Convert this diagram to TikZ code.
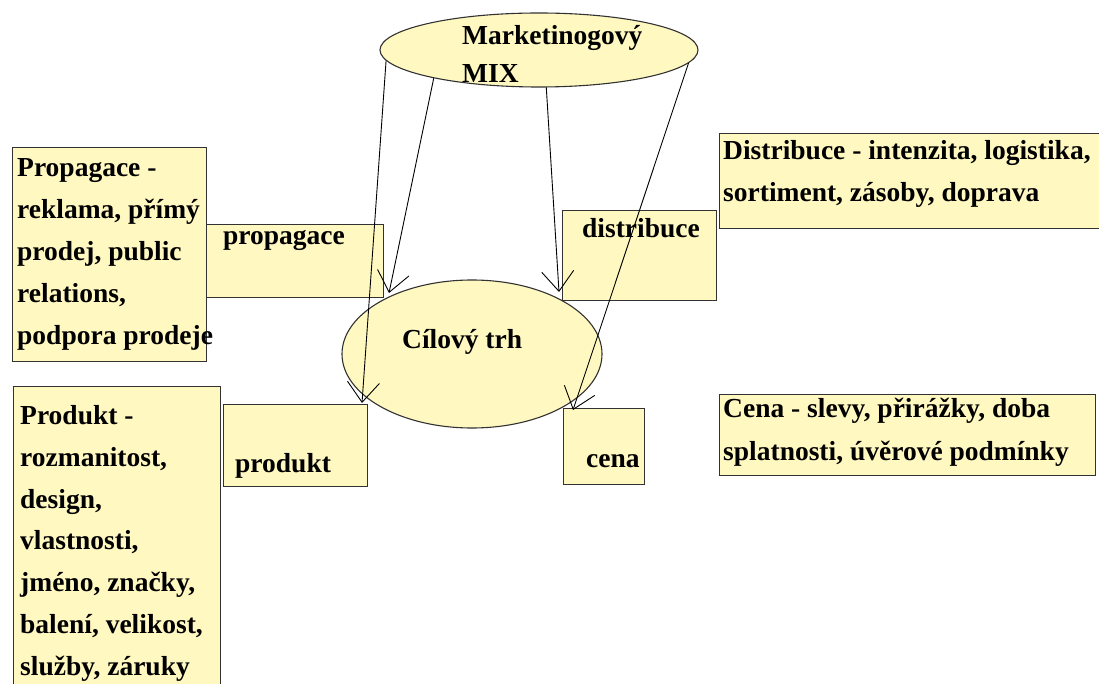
\documentclass[tikz,border=0pt]{standalone}
\usepackage{fontspec}
\setmainfont{Liberation Serif}
\usetikzlibrary{shapes.geometric,arrows.meta}
\definecolor{boxfill}{RGB}{255,248,192}
\definecolor{edgecol}{RGB}{50,50,50}
\begin{document}
\begin{tikzpicture}[x=1pt,y=-1pt,
  box/.style={draw=edgecol,fill=boxfill,line width=1.3pt,inner sep=0pt,anchor=north west},
  oval/.style={ellipse,draw=edgecol,fill=boxfill,line width=1.1pt,inner sep=0pt},
  txt/.style={font=\fontsize{27.5}{42}\selectfont\bfseries,inner sep=0pt,anchor=base west,align=left},
  link/.style={draw=black,line width=0.9pt,-{Straight Barb[length=20pt,width=32pt,line width=0.9pt]}}]
\useasboundingbox (0,0) rectangle (1099,684);
\clip (0,0) rectangle (1099,684);
\fill[white] (0,0) rectangle (1099,684);

% boxes
\node[box,minimum width=194pt,minimum height=214pt] (leftprop) at (12,147) {};
\node[box,minimum width=177pt,minimum height=73pt] (propbox) at (206,224) {};
\node[box,minimum width=154pt,minimum height=90pt] (distbox) at (562,210) {};
\node[box,minimum width=400pt,minimum height=95pt] (distinfo) at (719,133) {};
\node[box,minimum width=144pt,minimum height=82pt] (prodbox) at (223,404) {};
\node[box,minimum width=207pt,minimum height=330pt] (leftprod) at (13,386) {};
\node[box,minimum width=81pt,minimum height=76pt] (cenabox) at (563,408) {};
\node[box,minimum width=376pt,minimum height=81pt] (cenainfo) at (719,394) {};

% ellipses
\node[oval,minimum width=318pt,minimum height=74pt] (mix) at (539,50) {};
\node[oval,minimum width=260pt,minimum height=148pt] (target) at (472,354) {};

% texts (base anchor = baseline of the last line)
\node[txt,font=\fontsize{27.5}{38}\selectfont\bfseries] (mixtext) at (462,83) {Marketinogový\\MIX};
\node[txt] (targettext) at (402,348) {Cílový trh};
\node[txt] (proptext) at (223,245) {propagace};
\node[txt] (leftproptext) at (17,344) {Propagace -\\reklama, přímý\\prodej, public\\relations,\\podpora prodeje};
\node[txt] (disttext) at (582,238) {distribuce};
\node[txt] (distinfotext) at (723,202) {Distribuce - intenzita, logistika,\\sortiment, zásoby, doprava};
\node[txt] (prodtext) at (235,472) {produkt};
\node[txt,font=\fontsize{27.5}{41.7}\selectfont\bfseries] (leftprodtext) at (20,675) {Produkt -\\rozmanitost,\\design,\\vlastnosti,\\jméno, značky,\\balení, velikost,\\služby, záruky};
\node[txt] (cenatext) at (586,467) {cena};
\node[txt,font=\fontsize{27.5}{43}\selectfont\bfseries] (cenainfotext) at (723,460) {Cena - slevy, přirážky, doba\\splatnosti, úvěrové podmínky};

% arrow tips
\coordinate (t1) at (362,403);
\coordinate (t2) at (389,293);
\coordinate (t3) at (559,292);
\coordinate (t4) at (573,410);

% connectors
\draw[link] (mix.184) -- (t1);
\draw[link] (mix.195) -- (t2);
\draw[link] (mix.281) -- (t3);
\draw[link] (mix.355) -- (t4);
\end{tikzpicture}
\end{document}
